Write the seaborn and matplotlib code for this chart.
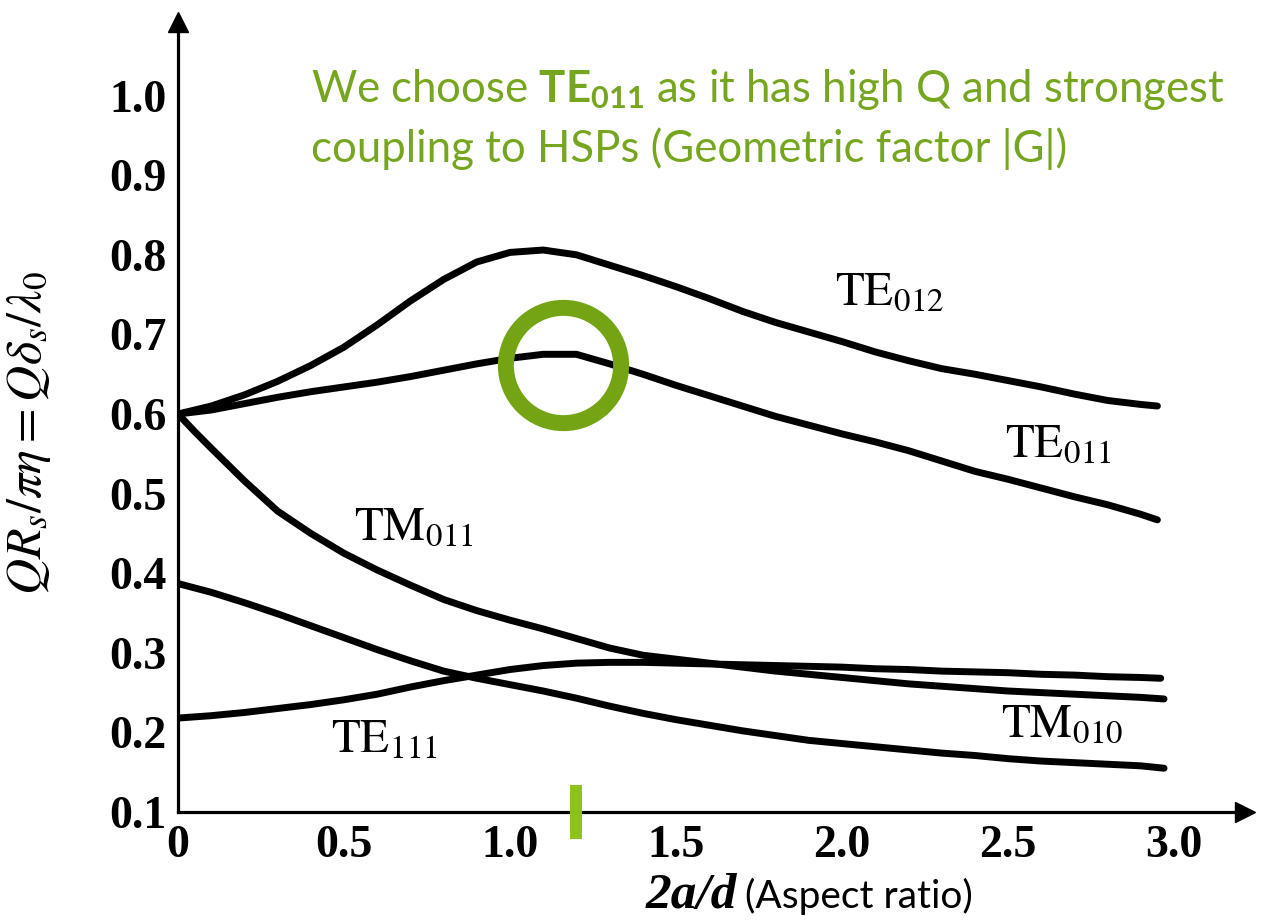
import matplotlib
matplotlib.use("Agg")
import matplotlib.pyplot as plt
import numpy as np
import pandas as pd
import seaborn as sns

# ---------------- data ----------------
x_common = [0.0, 0.1, 0.2, 0.3, 0.4, 0.5, 0.6, 0.7, 0.8, 0.9,
            1.0, 1.1, 1.2, 1.3, 1.4, 1.5, 1.6, 1.7, 1.8, 1.9,
            2.0, 2.1, 2.2, 2.3, 2.4, 2.5, 2.6, 2.7, 2.8, 2.9]

x_te012 = x_common + [2.95]
y_te012 = [0.600, 0.610, 0.624, 0.641, 0.661, 0.684, 0.712, 0.742, 0.769, 0.791,
           0.803, 0.806, 0.800, 0.787, 0.774, 0.760, 0.745, 0.729, 0.715, 0.703,
           0.691, 0.678, 0.667, 0.657, 0.650, 0.642, 0.634, 0.625, 0.617, 0.612, 0.610]

x_te011 = x_common + [2.95]
y_te011 = [0.600, 0.605, 0.613, 0.621, 0.628, 0.634, 0.640, 0.647, 0.655, 0.663,
           0.670, 0.675, 0.675, 0.663, 0.650, 0.636, 0.623, 0.610, 0.597, 0.586,
           0.575, 0.565, 0.554, 0.541, 0.528, 0.518, 0.507, 0.496, 0.486, 0.474, 0.467]

x_tm011 = [0.0, 0.05] + x_common[1:] + [2.97]
y_tm011 = [0.600, 0.578, 0.557, 0.516, 0.478, 0.450, 0.425, 0.404, 0.385, 0.367, 0.353,
           0.341, 0.330, 0.318, 0.306, 0.297, 0.292, 0.287, 0.282, 0.277, 0.273,
           0.269, 0.265, 0.261, 0.258, 0.255, 0.252, 0.250, 0.248, 0.246, 0.244, 0.242]

x_te111 = x_common + [2.96]
y_te111 = [0.218, 0.221, 0.225, 0.230, 0.235, 0.241, 0.248, 0.257, 0.265, 0.272,
           0.279, 0.284, 0.287, 0.288, 0.288, 0.287, 0.286, 0.285, 0.284, 0.283,
           0.282, 0.280, 0.279, 0.277, 0.276, 0.275, 0.273, 0.272, 0.270, 0.269, 0.268]

x_tm010 = x_common + [2.97]
y_tm010 = [0.387, 0.376, 0.363, 0.349, 0.334, 0.319, 0.304, 0.290, 0.277, 0.268,
           0.260, 0.252, 0.243, 0.233, 0.224, 0.216, 0.209, 0.202, 0.196, 0.190,
           0.186, 0.182, 0.178, 0.174, 0.171, 0.167, 0.164, 0.162, 0.160, 0.158, 0.155]

mode_names = ["TE012", "TE011", "TM011", "TE111", "TM010"]
mode_labels = [r"$\mathrm{TE}_{012}$", r"$\mathrm{TE}_{011}$", r"$\mathrm{TM}_{011}$",
               r"$\mathrm{TE}_{111}$", r"$\mathrm{TM}_{010}$"]
label_x = [1.98, 2.49, 0.53, 0.46, 2.48]
label_y = [0.737, 0.546, 0.442, 0.175, 0.194]

x_ticks = [0, 0.5, 1.0, 1.5, 2.0, 2.5, 3.0]
x_ticklabels = ["0", "0.5", "1.0", "1.5", "2.0", "2.5", "3.0"]
y_ticks = [0.1, 0.2, 0.3, 0.4, 0.5, 0.6, 0.7, 0.8, 0.9, 1.0]
y_ticklabels = ["0.1", "0.2", "0.3", "0.4", "0.5", "0.6", "0.7", "0.8", "0.9", "1.0"]

chosen_point = (1.16, 0.662)      # highlighted TE011 peak
chosen_aspect = 1.2               # marker on x axis

note_line1 = r"We choose $\mathbf{TE_{011}}$ as it has high Q and strongest"
note_line2 = "coupling to HSPs (Geometric factor |G|)"

# ---------------- style ----------------
sns.set_theme(style="white")
plt.rcParams["font.family"] = ["Liberation Serif", "DejaVu Serif"]
plt.rcParams["mathtext.fontset"] = "custom"
plt.rcParams["mathtext.rm"] = "Lato"
plt.rcParams["mathtext.it"] = "Lato:italic"
plt.rcParams["mathtext.bf"] = "Lato:bold"

W, H = 1261, 922
fig = plt.figure(figsize=(W / 100, H / 100), dpi=100)
fig.patch.set_facecolor("white")
L, B, R, T = 178, 812, 1245, 22
ax = fig.add_axes([L / W, 1 - B / H, (R - L) / W, (B - T) / H])
ax.set_facecolor("white")

frames = []
xs = [x_te012, x_te011, x_tm011, x_te111, x_tm010]
ys = [y_te012, y_te011, y_tm011, y_te111, y_tm010]
for name, xv, yv in zip(mode_names, xs, ys):
    frames.append(pd.DataFrame({"x": xv, "y": yv, "mode": name}))
df = pd.concat(frames, ignore_index=True)

sns.lineplot(data=df, x="x", y="y", units="mode", estimator=None, color="black",
             lw=5.0, ax=ax, legend=False, sort=False)
for ln in ax.get_lines():
    ln.set_solid_joinstyle("round")
    ln.set_solid_capstyle("round")

ax.set_xlim(0, (R - L) / 332.0)
ax.set_ylim(0.1, 0.1 + (B - T) / 796.0)

for s in ["top", "right"]:
    ax.spines[s].set_visible(False)
for s in ["left", "bottom"]:
    ax.spines[s].set_linewidth(2.3)
    ax.spines[s].set_color("black")

# arrow heads
ax.plot(1, 0, marker=">", ms=15, color="black", transform=ax.transAxes, clip_on=False)
ax.plot(0, 1, marker="^", ms=15, color="black", transform=ax.transAxes, clip_on=False)

ax.set_xticks(x_ticks)
ax.set_xticklabels(x_ticklabels)
ax.set_yticks(y_ticks)
ax.set_yticklabels(y_ticklabels)
ax.tick_params(axis="y", direction="in", length=25, width=2.2, pad=8,
               labelsize=33, colors="black")
ax.tick_params(axis="x", direction="in", length=21, width=2.0, pad=9,
               labelsize=33, colors="black")
for lab in ax.get_xticklabels() + ax.get_yticklabels():
    lab.set_fontweight("bold")
ax.set_xlabel("")
ax.set_ylabel("")

# curve labels
for lab, lx, ly in zip(mode_labels, label_x, label_y):
    ax.text(lx, ly, lab, fontsize=34, math_fontfamily="stix", va="baseline",
            ha="left", color="black")

# axis titles
fig.text(29 / W, 1 - 433 / H, r"$QR_s/\pi\eta = Q\delta_s/\lambda_0$", rotation=90,
         fontsize=36, math_fontfamily="stix", ha="center", va="center",
         color="black")
fig.text(737 / W, 1 - 908 / H, "2a/d", fontsize=37, family="Liberation Serif",
         style="italic", weight="bold", ha="right", va="baseline", color="black")
fig.text(745 / W, 1 - 908 / H, "(Aspect ratio)", fontsize=28, family="Lato",
         ha="left", va="baseline", color="black")

# annotations
green = "#76A620"
ax.plot(chosen_point[0], chosen_point[1], marker="o", ms=83, mfc="none",
        mec="#74A414", mew=11.5, zorder=5)
ax.plot([chosen_aspect, chosen_aspect], [0.066, 0.134], color="#8DC11C",
        lw=8.6, solid_capstyle="butt", clip_on=False, zorder=6)

fig.text(311 / W, 1 - 102 / H, note_line1, fontsize=31.5, family="Lato",
         color=green, ha="left", va="baseline", math_fontfamily="custom")
fig.text(311 / W, 1 - 162 / H, note_line2, fontsize=31.5, family="Lato",
         color=green, ha="left", va="baseline")

fig.savefig("out.png", dpi=100, facecolor="white")
